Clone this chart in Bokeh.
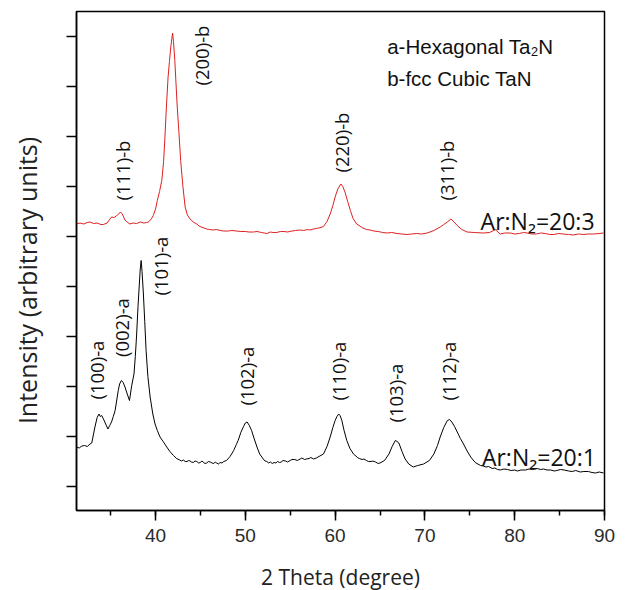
import math
from bokeh.plotting import figure
from bokeh.models import SingleIntervalTicker, FixedTicker, CustomJSTickFormatter, ColumnDataSource
from bokeh.core.properties import value
from bokeh.embed import file_html
from bokeh.resources import INLINE

# ---- data ----
theta_201 = [31.2, 31.5, 31.8, 32.1, 32.4, 32.7, 32.9, 33.1, 33.25, 33.5, 33.7, 33.85, 34.0, 34.2, 34.45,
             34.7, 34.9, 35.1, 35.3, 35.5, 35.7, 35.85, 36.0, 36.2, 36.4, 36.6, 36.85, 37.1, 37.35, 37.6,
             37.75, 37.9, 38.05, 38.2, 38.3, 38.4, 38.5, 38.65, 38.8, 38.95, 39.15, 39.4, 39.7, 39.95, 40.2,
             40.5, 40.85, 41.25, 41.6, 42.0, 42.35,
             42.7, 42.9, 43.1, 43.3, 43.5, 43.7, 43.85, 44.0, 44.2, 44.4, 44.6, 44.8, 45.0, 45.15, 45.3,
             45.5, 45.7, 45.9, 46.1, 46.3, 46.5, 46.65, 46.8, 47.0, 47.2, 47.4, 47.6,
             47.9, 48.3, 48.7, 49.0, 49.2, 49.5, 49.8, 50.0, 50.2, 50.45, 50.7, 51.0, 51.3, 51.6,
             52.0, 52.2, 52.4, 52.6, 52.8, 53.0, 53.2, 53.4, 53.6, 53.8, 54.0, 54.2, 54.5, 54.7, 55.0,
             55.2, 55.5, 55.8, 56.1, 56.3, 56.6, 56.8, 57.1, 57.3, 57.6, 57.9, 58.2,
             58.7, 59.1, 59.45, 59.75, 60.0, 60.2, 60.4, 60.55, 60.75, 61.0, 61.3, 61.65, 62.05,
             62.5, 62.7, 63.0, 63.2, 63.5, 63.7, 64.0, 64.2, 64.5, 64.8, 65.0,
             65.5, 66.0, 66.35, 66.7, 66.9, 67.1, 67.45, 67.8, 68.2, 68.7, 69.2, 69.85, 70.5, 71.0, 71.4,
             71.7, 72.1, 72.5, 72.75, 73.0, 73.3, 73.6, 73.95, 74.3, 74.7, 75.1, 75.6,
             76.2, 76.5, 76.8, 77.1, 77.5, 77.8, 78.1, 78.4, 78.8, 79.2, 79.6, 80.0, 80.3, 80.7, 81.2,
             81.6, 82.0, 82.5, 82.9, 83.2, 83.6, 84.0, 84.4, 84.7, 85.1, 85.5, 86.0, 86.4, 86.8, 87.3,
             87.7, 88.2, 88.6, 89.0, 89.4, 89.9]
int_201 = [0.79, 0.77, 0.81, 0.82, 0.80, 0.85, 0.87, 1.05, 1.19, 1.38, 1.45, 1.40, 1.42, 1.35, 1.25,
           1.15, 1.22, 1.29, 1.40, 1.52, 1.75, 1.92, 2.05, 2.12, 2.08, 1.99, 1.85, 1.72, 2.02, 2.25,
           2.60, 3.05, 3.60, 4.05, 4.35, 4.52, 4.30, 3.85, 3.30, 2.72, 2.20, 1.79, 1.45, 1.25, 1.12,
           0.99, 0.90, 0.79, 0.70, 0.62, 0.56,
           0.53, 0.51, 0.53, 0.50, 0.50, 0.52, 0.51, 0.49, 0.48, 0.51, 0.50, 0.47, 0.48, 0.51, 0.49,
           0.46, 0.47, 0.50, 0.49, 0.47, 0.46, 0.49, 0.47, 0.45, 0.48, 0.47, 0.50,
           0.52, 0.60, 0.72, 0.84, 0.92, 1.08, 1.20, 1.27, 1.29, 1.22, 1.12, 0.95, 0.79, 0.65,
           0.55, 0.51, 0.50, 0.47, 0.49, 0.46, 0.48, 0.47, 0.50, 0.48, 0.49, 0.52, 0.51, 0.49, 0.52,
           0.54, 0.54, 0.52, 0.55, 0.57, 0.54, 0.55, 0.56, 0.58, 0.55, 0.57, 0.60,
           0.65, 0.80, 0.99, 1.18, 1.32, 1.40, 1.45, 1.42, 1.32, 1.12, 0.92, 0.76, 0.65,
           0.58, 0.56, 0.54, 0.55, 0.52, 0.50, 0.50, 0.51, 0.49, 0.46, 0.47,
           0.52, 0.65, 0.80, 0.92, 0.90, 0.87, 0.70, 0.55, 0.45, 0.39, 0.42, 0.45, 0.52, 0.65, 0.82,
           0.99, 1.18, 1.32, 1.34, 1.29, 1.20, 1.09, 0.96, 0.85, 0.71, 0.59, 0.48,
           0.42, 0.41, 0.39, 0.40, 0.36, 0.37, 0.34, 0.33, 0.35, 0.34, 0.32, 0.33, 0.31, 0.33, 0.33,
           0.35, 0.34, 0.36, 0.34, 0.35, 0.33, 0.33, 0.31, 0.32, 0.34, 0.33, 0.31, 0.30, 0.32, 0.29,
           0.30, 0.30, 0.28, 0.27, 0.29, 0.27]

theta_203 = [31.2, 31.6, 32.0, 32.4, 32.7, 33.1, 33.5, 33.9, 34.2, 34.6, 35.1, 35.4, 35.7, 35.9, 36.1,
             36.3, 36.6, 36.9, 37.15, 37.5, 37.9, 38.3, 38.7, 39.0, 39.2, 39.5, 39.75, 40.0, 40.2, 40.45,
             40.7, 40.9, 41.05, 41.2, 41.4, 41.55, 41.7, 41.9, 42.0, 42.15, 42.4, 42.6, 42.8, 43.05, 43.3,
             43.55, 43.85, 44.2, 44.4, 44.6, 44.85, 45.1, 45.4, 45.7, 46.0, 46.4, 46.8, 47.2, 47.6, 48.1,
             48.5, 49.05, 49.5, 50.0, 50.4, 50.9, 51.3, 51.8, 52.1, 52.4, 52.8, 53.1, 53.5, 53.9, 54.3,
             54.7, 55.2, 55.6, 56.1, 56.5, 56.9, 57.2, 57.6, 57.9, 58.2,
             58.7, 59.1, 59.45, 59.75, 60.0, 60.3, 60.65, 60.85, 61.1, 61.4, 61.7, 62.0, 62.4,
             63.1, 63.5, 63.9, 64.3, 64.8, 65.3, 65.8, 66.3, 66.9, 67.4, 68.0, 68.5, 69.1, 69.6, 70.25,
             71.0, 71.7, 72.1, 72.5, 72.9, 73.2, 73.6, 74.1, 74.7, 75.5, 76.5, 77.2, 77.65, 77.95, 78.1,
             78.4, 78.9, 79.5, 80.0, 80.5, 81.0, 81.4, 81.9, 82.4, 82.9, 83.4, 83.9, 84.35, 84.9, 85.4,
             86.0, 86.5, 87.1, 87.7, 88.2, 88.8, 89.4, 89.9]
int_203 = [5.25, 5.27, 5.25, 5.28, 5.29, 5.26, 5.27, 5.24, 5.24, 5.27, 5.39, 5.38, 5.42, 5.45, 5.49,
           5.45, 5.33, 5.28, 5.25, 5.27, 5.26, 5.29, 5.27, 5.28, 5.29, 5.34, 5.42, 5.55, 5.72, 5.90,
           6.12, 6.50, 6.99, 7.55, 8.19, 8.50, 8.79, 9.07, 8.90, 8.52, 7.65, 7.10, 6.52, 6.00, 5.59,
           5.43, 5.35, 5.29, 5.27, 5.25, 5.21, 5.19, 5.17, 5.15, 5.14, 5.13, 5.14, 5.12, 5.11, 5.11,
           5.12, 5.11, 5.10, 5.10, 5.09, 5.09, 5.10, 5.08, 5.07, 5.06, 5.09, 5.08, 5.08, 5.10, 5.10,
           5.09, 5.11, 5.12, 5.13, 5.12, 5.14, 5.13, 5.15, 5.16, 5.17,
           5.20, 5.30, 5.45, 5.62, 5.79, 5.95, 6.05, 6.00, 5.89, 5.70, 5.52, 5.36, 5.25,
           5.17, 5.14, 5.13, 5.11, 5.10, 5.08, 5.07, 5.08, 5.06, 5.05, 5.04, 5.05, 5.06, 5.05, 5.07,
           5.12, 5.19, 5.24, 5.29, 5.35, 5.30, 5.22, 5.14, 5.09, 5.08, 5.07, 5.08, 5.12, 5.14, 5.09,
           5.05, 5.07, 5.07, 5.05, 5.06, 5.08, 5.07, 5.05, 5.05, 5.07, 5.06, 5.04, 5.04, 5.06, 5.05,
           5.04, 5.03, 5.05, 5.04, 5.05, 5.05, 5.06, 5.07]

peak_labels_b = ["(111)-b", "(200)-b", "(220)-b", "(311)-b"]
peak_x_b = [36.34, 45.15, 60.76, 72.46]
peak_y_b = [5.72, 8.02, 6.28, 5.72]

peak_labels_a = ["(100)-a", "(002)-a", "(101)-a", "(102)-a", "(110)-a", "(103)-a", "(112)-a"]
peak_x_a = [33.45, 36.23, 40.6, 50.17, 60.38, 66.7, 72.64]
peak_y_a = [1.74, 2.59, 3.82, 1.62, 1.72, 1.28, 1.72]

x_ticks_interval = 10
y_ticks = list(range(10))

# ---- figure ----
p = figure(frame_width=528, frame_height=499, x_range=(31.2, 90), y_range=(-0.48, 9.5),
           output_backend="svg", toolbar_location=None,
           min_border_left=76, min_border_right=15, min_border_top=11, min_border_bottom=70)
p.grid.visible = False
p.outline_line_color = "black"
p.outline_line_width = 1.5
p.background_fill_color = "white"
p.border_fill_color = "white"

p.xaxis.ticker = SingleIntervalTicker(interval=x_ticks_interval, num_minor_ticks=2)
p.xaxis.major_tick_out = 10
p.xaxis.major_tick_in = 0
p.xaxis.minor_tick_out = 5
p.xaxis.minor_tick_in = 0
p.xaxis.axis_line_width = 1.5
p.xaxis.major_tick_line_width = 1.5
p.xaxis.minor_tick_line_width = 1.5
p.xaxis.major_label_text_font = "Liberation Sans"
p.xaxis.major_label_text_font_size = "19px"
p.xaxis.major_label_text_color = "#2a2a2a"
p.xaxis.major_label_standoff = 8
p.xaxis.axis_label = "2 Theta (degree)"
p.xaxis.axis_label_text_font = "Open Sans"
p.xaxis.axis_label_text_font_size = "21px"
p.xaxis.axis_label_text_font_style = "normal"
p.xaxis.axis_label_text_color = "#222222"
p.xaxis.axis_label_standoff = 18

p.yaxis.ticker = FixedTicker(ticks=y_ticks)
p.yaxis.formatter = CustomJSTickFormatter(code="return ''")
p.yaxis.major_tick_out = 10
p.yaxis.major_tick_in = 0
p.yaxis.minor_tick_line_color = None
p.yaxis.axis_line_width = 1.5
p.yaxis.major_tick_line_width = 1.5
p.yaxis.major_label_standoff = 0
p.yaxis.axis_label = "Intensity (arbitrary units)" + "\u00a0" * 6
p.yaxis.axis_label_text_font = "Open Sans"
p.yaxis.axis_label_text_font_size = "25px"
p.yaxis.axis_label_text_font_style = "normal"
p.yaxis.axis_label_text_color = "#222222"
p.yaxis.axis_label_standoff = 23

p.line(theta_201, int_201, line_color="black", line_width=1)
p.line(theta_203, int_203, line_color="#dd2020", line_width=1)

src_b = ColumnDataSource(dict(x=peak_x_b, y=peak_y_b, t=peak_labels_b))
src_a = ColumnDataSource(dict(x=peak_x_a, y=peak_y_a, t=peak_labels_a))
for src in (src_a, src_b):
    p.text(x="x", y="y", text="t", source=src, angle=math.pi / 2,
           text_align="left", text_baseline="middle",
           text_font=value("Open Sans"), text_font_size="18.5px", text_color="#111111")

p.text(x=[76.2], y=[5.32], text=["Ar:N\u2082=20:3"], text_align="left", text_baseline="alphabetic",
       text_font=value("Open Sans"), text_font_size="23px", text_color="#111111")
p.text(x=[76.35], y=[0.60], text=["Ar:N\u2082=20:1"], text_align="left", text_baseline="alphabetic",
       text_font=value("Open Sans"), text_font_size="23px", text_color="#111111")

p.text(x=[65.8], y=[8.80], text=["a-Hexagonal Ta\u2082N"], text_align="left", text_baseline="alphabetic",
       text_font=value("Liberation Sans"), text_font_size="20.5px", text_color="#111111")
p.text(x=[65.8], y=[8.16], text=["b-fcc Cubic TaN"], text_align="left", text_baseline="alphabetic",
       text_font=value("Liberation Sans"), text_font_size="20.5px", text_color="#111111")

open("out.html", "w").write(file_html(p, INLINE))
